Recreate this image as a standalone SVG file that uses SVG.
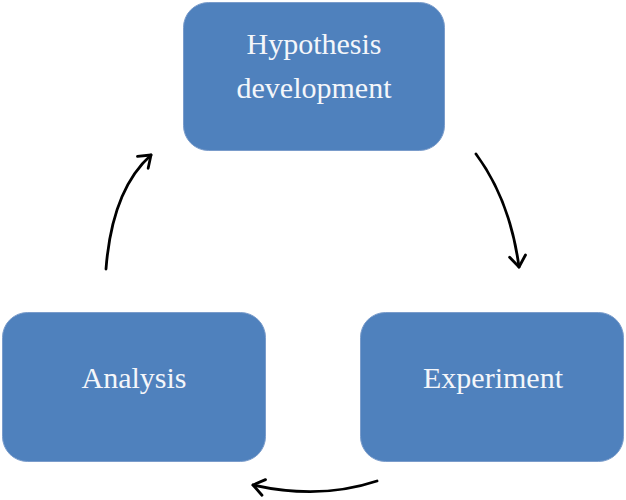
<svg xmlns="http://www.w3.org/2000/svg" width="626" height="500" viewBox="0 0 626 500">
<style>
.box{fill:#4F81BD;stroke:#7A9CCB;stroke-width:1}
.lbl{fill:#F4F6FA;font-family:"Liberation Serif","DejaVu Serif",serif;font-size:30px;text-anchor:middle}
.arr{fill:none;stroke:#000;stroke-width:2.8;stroke-linecap:round}
</style>
<defs>
<marker id="ah" markerUnits="userSpaceOnUse" markerWidth="30" markerHeight="30" refX="0" refY="0" viewBox="-15 -15 30 30" orient="auto">
<path d="M-11,-8 L0,0 L-11,8" fill="none" stroke="#000" stroke-width="2.8" stroke-linecap="round" stroke-linejoin="round"/>
</marker>
</defs>
<rect width="626" height="500" fill="#fff"/>
<g id="hypothesis">
<rect class="box" x="183.5" y="2.5" width="261" height="148" rx="25"/>
<text class="lbl" x="314" y="54">Hypothesis</text>
<text class="lbl" x="314" y="98">development</text>
</g>
<g id="experiment">
<rect class="box" x="360.5" y="312.5" width="263" height="149" rx="25"/>
<text class="lbl" x="493" y="388">Experiment</text>
</g>
<g id="analysis">
<rect class="box" x="2.5" y="312.5" width="263" height="149" rx="25"/>
<text class="lbl" x="134" y="388">Analysis</text>
</g>
<g id="connectors">
<path class="arr" d="M476,154 Q510,200 519,267" marker-end="url(#ah)"/>
<path class="arr" d="M377,481 Q320,500 253,485" marker-end="url(#ah)"/>
<path class="arr" d="M106,269 Q112,190 151,155" marker-end="url(#ah)"/>
</g>
</svg>
